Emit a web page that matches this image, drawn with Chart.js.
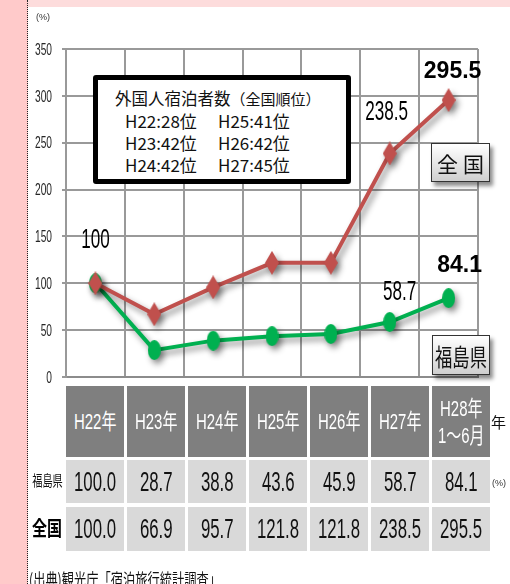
<!DOCTYPE html>
<html><head><meta charset="utf-8">
<script src="https://cdn.jsdelivr.net/npm/chart.js@4/dist/chart.umd.min.js"></script>
<style>
html,body{margin:0;padding:0;width:510px;height:584px;overflow:hidden;background:#fff;font-family:"Noto Sans CJK JP",sans-serif;}
.abs{position:absolute;}
#wrap{position:absolute;left:0;top:0;width:510px;height:584px;}
#topband{left:0;top:0;width:510px;height:7px;background:#fddcdc;}
#leftband{left:0;top:0;width:27px;height:584px;background:#ffcaca;border-right:1px dotted #222;}
.sq{display:inline-block;transform-origin:center center;white-space:nowrap;}
.cell{position:absolute;display:flex;align-items:center;justify-content:center;text-align:center;}
.hd{background:#7f7f7f;color:#fff;font-family:"Liberation Sans","Noto Sans CJK JP",sans-serif;font-size:22px;line-height:27px;}
.dt{background:#d9d9d9;color:#111;font-family:"Liberation Sans",sans-serif;font-size:28px;}
#rankbox{left:93px;top:75px;width:258px;height:109px;box-sizing:border-box;border:5px solid #000;border-radius:3px;background:#fff;}
.rk{position:absolute;font-size:17px;line-height:20px;color:#111;white-space:nowrap;}
.lg{position:absolute;box-sizing:border-box;border:1.5px solid #333;background:linear-gradient(#ffffff,#cfcfcf);box-shadow:3px 4px 4px rgba(0,0,0,0.45);display:flex;align-items:center;justify-content:center;color:#111;}
</style></head><body>
<div id="wrap">
<div id="topband" class="abs"></div>
<div id="leftband" class="abs"></div>
<div class="abs" style="left:0;top:0;width:510px;height:584px;"><canvas id="c" width="510" height="584"></canvas></div>
<div class="abs" style="left:36px;top:12px;font-size:9px;color:#333;font-family:'Liberation Sans',sans-serif;">(%)</div>
<div id="rankbox" class="abs"></div>
<div id="lgN" class="lg" style="left:431px;top:143px;width:59px;height:39px;"><span style="font-size:21px;letter-spacing:5px;margin-left:5px;">全国</span></div>
<div id="lgF" class="lg" style="left:432px;top:335px;width:58px;height:40px;"><span class="sq" style="font-size:24px;transform:scaleX(0.72);">福島県</span></div>
<div id="table"></div>
<div class="abs" style="left:491px;top:411px;font-size:15px;color:#111;">年</div>
<div class="abs" style="left:492px;top:478px;font-size:9px;color:#333;font-family:'Liberation Sans',sans-serif;">(%)</div>
<div class="abs" style="left:25px;top:467px;width:44px;text-align:center;"><span class="sq" style="font-size:15px;transform:scaleX(0.68);color:#111;">福島県</span></div>
<div class="abs" style="left:25px;top:513px;width:44px;text-align:center;"><span class="sq" style="font-size:20px;font-weight:bold;transform:scaleX(0.75);color:#000;">全国</span></div>
<div class="abs" style="left:29px;top:566px;"><span class="sq" style="font-size:17px;transform:scaleX(0.72);transform-origin:left center;color:#111;">(出典)観光庁「宿泊旅行統計調査」</span></div>
</div>
<script>
const categories = [['H22年'], ['H23年'], ['H24年'], ['H25年'], ['H26年'], ['H27年'], ['H28年', '1〜6月']];
const fukushima = [100, 28.7, 38.8, 43.6, 45.9, 58.7, 84.1];
const national = [100, 66.9, 95.7, 121.8, 121.8, 238.5, 295.5];
const yMin = 0, yMax = 350, yStep = 50;
const seriesNames = ['全国', '福島県'];
const rankTitle = '外国人宿泊者数';
const rankSub = '（全国順位）';
const ranksLeft = ['H22:28位', 'H23:42位', 'H24:42位'];
const ranksRight = ['H25:41位', 'H26:42位', 'H27:45位'];

// ranking box
(function(){
  const box = document.getElementById('rankbox');
  const t = document.createElement('div');
  t.className = 'rk';
  t.style.left = '17px'; t.style.top = '8px';
  t.innerHTML = '<span style="font-size:16.5px">' + rankTitle + '</span><span style="font-size:15px">' + rankSub + '</span>';
  box.appendChild(t);
  const tops = [31, 53, 75];
  ranksLeft.forEach((s, i) => {
    const d = document.createElement('div'); d.className = 'rk';
    d.style.left = '27px'; d.style.top = tops[i] + 'px'; d.textContent = s; box.appendChild(d);
  });
  ranksRight.forEach((s, i) => {
    const d = document.createElement('div'); d.className = 'rk';
    d.style.left = '120px'; d.style.top = tops[i] + 'px'; d.textContent = s; box.appendChild(d);
  });
})();

// table
(function(){
  const tb = document.getElementById('table');
  const x0 = 66, cw = 58, gap = 3;
  const rows = [
    {top: 386, h: 71, cls: 'hd', vals: categories.map(c => c.join('<br>')), sc: 0.68},
    {top: 460, h: 43, cls: 'dt', vals: fukushima.map(v => v.toFixed(1)), sc: 0.6},
    {top: 507, h: 44, cls: 'dt', vals: national.map(v => v.toFixed(1)), sc: 0.6}
  ];
  rows.forEach(r => {
    r.vals.forEach((v, i) => {
      const d = document.createElement('div');
      d.className = 'cell ' + r.cls;
      d.style.left = (x0 + i * (cw + gap)) + 'px';
      d.style.top = r.top + 'px';
      d.style.width = cw + 'px';
      d.style.height = r.h + 'px';
      d.innerHTML = '<span class="sq" style="transform:scaleX(' + r.sc + ')">' + v + '</span>';
      tb.appendChild(d);
    });
  });
})();

function diamondImg(w, h, color){
  const c = document.createElement('canvas'); c.width = w; c.height = h;
  const g = c.getContext('2d'); g.fillStyle = color;
  g.beginPath(); g.moveTo(w/2, 0); g.lineTo(w, h/2); g.lineTo(w/2, h); g.lineTo(0, h/2); g.closePath(); g.fill();
  return c;
}
function ellipseImg(w, h, color){
  const c = document.createElement('canvas'); c.width = w; c.height = h;
  const g = c.getContext('2d'); g.fillStyle = color;
  g.beginPath(); g.ellipse(w/2, h/2, w/2, h/2, 0, 0, Math.PI*2); g.fill();
  return c;
}
const RED = '#c0504d', GREEN = '#00b050';

const shadowPlugin = {
  id: 'shadow',
  beforeDatasetDraw(chart){ const ctx = chart.ctx; ctx.save(); ctx.shadowColor = 'rgba(0,0,0,0.45)'; ctx.shadowBlur = 6; ctx.shadowOffsetX = 3; ctx.shadowOffsetY = 4; },
  afterDatasetDraw(chart){ chart.ctx.restore(); }
};

function drawNarrow(ctx, text, x, y, font, sx, align){
  ctx.save();
  ctx.translate(x, y);
  ctx.scale(sx, 1);
  ctx.font = font;
  ctx.textAlign = align || 'center';
  ctx.textBaseline = 'middle';
  ctx.fillText(text, 0, 0);
  ctx.restore();
}

const labelSpec = [
  [{i: 0, bold: false, dx: 0, dy: -43}, {i: 5, bold: false, dx: -3, dy: -41}, {i: 6, bold: true, dx: 4, dy: -28}],
  [{i: 5, bold: false, dx: 10, dy: -30}, {i: 6, bold: true, dx: 11, dy: -33}]
];

const labelPlugin = {
  id: 'labels',
  afterDraw(chart){
    const ctx = chart.ctx;
    const ys = chart.scales.y;
    ctx.fillStyle = '#262626';
    ys.ticks.forEach(t => {
      drawNarrow(ctx, String(t.value), 52, ys.getPixelForValue(t.value) + 1, '17px "Liberation Sans", sans-serif', 0.6, 'right');
    });
    labelSpec.forEach((specs, di) => {
      const meta = chart.getDatasetMeta(di);
      const data = chart.data.datasets[di].data;
      specs.forEach(s => {
        const p = meta.data[s.i];
        ctx.fillStyle = '#000';
        if (s.bold) {
          drawNarrow(ctx, String(data[s.i]), p.x + s.dx, p.y + s.dy, 'bold 23px "Liberation Sans", sans-serif', 1, 'center');
        } else {
          drawNarrow(ctx, String(data[s.i]), p.x + s.dx, p.y + s.dy, '28px "Liberation Sans", sans-serif', 0.61, 'center');
        }
      });
    });
  }
};

new Chart(document.getElementById('c'), {
  type: 'line',
  data: {
    labels: categories.map(c => c.join('')),
    datasets: [
      {label: seriesNames[0], data: national, borderColor: RED, backgroundColor: RED, borderWidth: 4,
       pointStyle: diamondImg(14, 24, RED), pointRadius: 10, tension: 0},
      {label: seriesNames[1], data: fukushima, borderColor: GREEN, backgroundColor: GREEN, borderWidth: 4,
       pointStyle: ellipseImg(13, 20, GREEN), pointRadius: 10, tension: 0}
    ]
  },
  options: {
    responsive: false,
    animation: false,
    events: [],
    layout: {padding: {left: 0, top: 49, right: 32, bottom: 207}},
    plugins: {legend: {display: false}, tooltip: {enabled: false}},
    scales: {
      x: {
        offset: true,
        grid: {offset: true, color: '#999', lineWidth: 2, drawTicks: false},
        border: {color: '#8c8c8c', width: 2},
        ticks: {display: false},
        afterFit: s => { s.height = 0; }
      },
      y: {
        min: yMin, max: yMax,
        ticks: {stepSize: yStep, display: false},
        grid: {color: '#999', lineWidth: 2, tickLength: 4},
        border: {color: '#999', width: 2},
        afterFit: s => { s.width = 66; }
      }
    }
  },
  plugins: [shadowPlugin, labelPlugin]
});
</script>
</body></html>
